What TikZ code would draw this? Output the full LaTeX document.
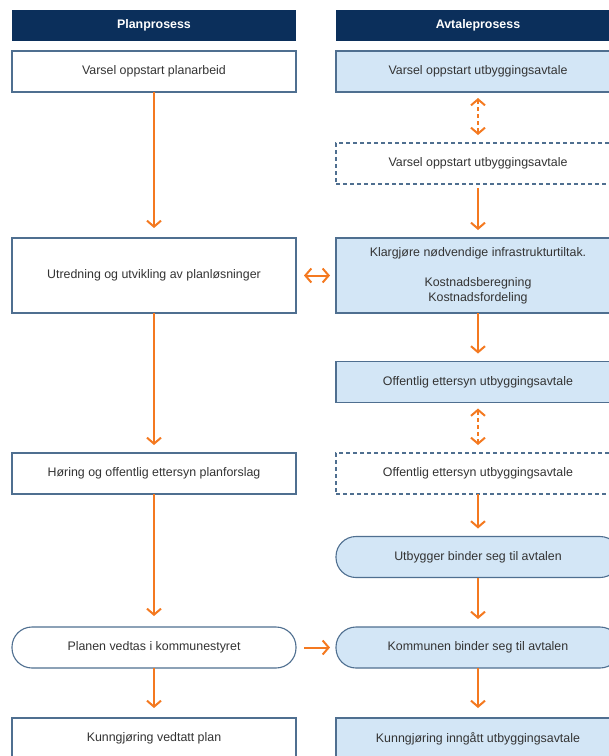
\documentclass[tikz,border=0pt]{standalone}
\usepackage{fontspec}
\setmainfont{Liberation Sans}
\usepackage{tikz}
\usetikzlibrary{arrows.meta}
\definecolor{navy}{HTML}{0B2F5B}
\definecolor{edgeblue}{HTML}{4F6F90}
\definecolor{paleblue}{HTML}{D3E6F6}
\definecolor{floworange}{HTML}{F47920}
\definecolor{txtgray}{HTML}{333333}
\tikzset{
  box/.style={shape=rectangle, draw=edgeblue, line width=1.1pt, minimum width=284pt, minimum height=41pt, inner sep=0pt, outer sep=0pt, text=txtgray, font=\fontsize{12.4}{15}\selectfont, align=center},
  headbox/.style={box, draw=none, fill=navy, minimum height=31pt, text=white, font=\fontsize{12.4}{15}\selectfont\bfseries},
  planbox/.style={box, fill=white},
  avtalebox/.style={box, fill=paleblue},
  dashbox/.style={box, fill=white, dash pattern=on 4pt off 3pt},
  pillbox/.style={box, rounded corners=20pt},
  flow/.style={draw=floworange, line width=2pt, -{Straight Barb[length=6pt,width=14pt]}, shorten >=8pt},
  dotflow/.style={flow, {Straight Barb[length=6pt,width=14pt]}-{Straight Barb[length=6pt,width=14pt]}, dash pattern=on 4pt off 3pt, shorten <=6pt}
}
\begin{document}
\begin{tikzpicture}[x=1pt,y=1pt]
  \useasboundingbox (0,0) rectangle (609,-756);
  \clip (0,0) rectangle (609,-756);

  % headers
  \node[headbox] (hPlan) at (154,-25.5) {Planprosess};
  \node[headbox] (hAvtale) at (478,-25.5) {Avtaleprosess};

  % planprosess
  \node[planbox] (varselPlan) at (154,-71.5) {Varsel oppstart planarbeid};
  \node[planbox, minimum height=75pt] (utredning) at (154,-275.5) {Utredning og utvikling av planløsninger};
  \node[planbox] (horing) at (154,-473.5) {Høring og offentlig ettersyn planforslag};
  \node[planbox, pillbox] (vedtak) at (154,-647.5) {Planen vedtas i kommunestyret};
  \node[planbox] (kunngPlan) at (154,-738.5) {Kunngjøring vedtatt plan};

  % avtaleprosess
  \node[avtalebox] (varselAvtale) at (478,-71.5) {Varsel oppstart utbyggingsavtale};
  \node[dashbox] (varselAvtaleB) at (478,-163.5) {Varsel oppstart utbyggingsavtale};
  \node[avtalebox, minimum height=75pt] (klargjore) at (478,-275.5) {Klargjøre nødvendige infrastrukturtiltak.\\[15pt]Kostnadsberegning\\Kostnadsfordeling};
  \node[avtalebox] (offentligA) at (478,-382) {Offentlig ettersyn utbyggingsavtale};
  \node[dashbox] (offentligB) at (478,-473.5) {Offentlig ettersyn utbyggingsavtale};
  \node[avtalebox, pillbox] (utbygger) at (478,-557) {Utbygger binder seg til avtalen};
  \node[avtalebox, pillbox] (kommunen) at (478,-647.5) {Kommunen binder seg til avtalen};
  \node[avtalebox] (kunngAvtale) at (478,-738.5) {Kunngjøring inngått utbyggingsavtale};

  % piler
  \draw[flow, shorten >=10pt] (varselPlan) -- (utredning);
  \draw[flow] (utredning) -- (horing);
  \draw[flow, shorten >=11pt] (horing) -- (vedtak);
  \draw[flow, shorten >=10pt] (vedtak) -- (kunngPlan);
  \draw[dotflow] (varselAvtale) -- (varselAvtaleB);
  \draw[flow, shorten <=4pt] (varselAvtaleB) -- (klargjore);
  \draw[flow] (klargjore) -- (offentligA);
  \draw[dotflow] (offentligA) -- (offentligB);
  \draw[flow] (offentligB) -- (utbygger);
  \draw[flow] (utbygger) -- (kommunen);
  \draw[flow, shorten >=10pt] (kommunen) -- (kunngAvtale);
  \draw[flow, {Straight Barb[length=6pt,width=14pt]}-{Straight Barb[length=6pt,width=14pt]}, shorten <=8pt, shorten >=6pt] (utredning) -- (klargjore);
  \draw[flow, shorten <=8pt, shorten >=6pt] (vedtak) -- (kommunen);
\end{tikzpicture}
\end{document}
